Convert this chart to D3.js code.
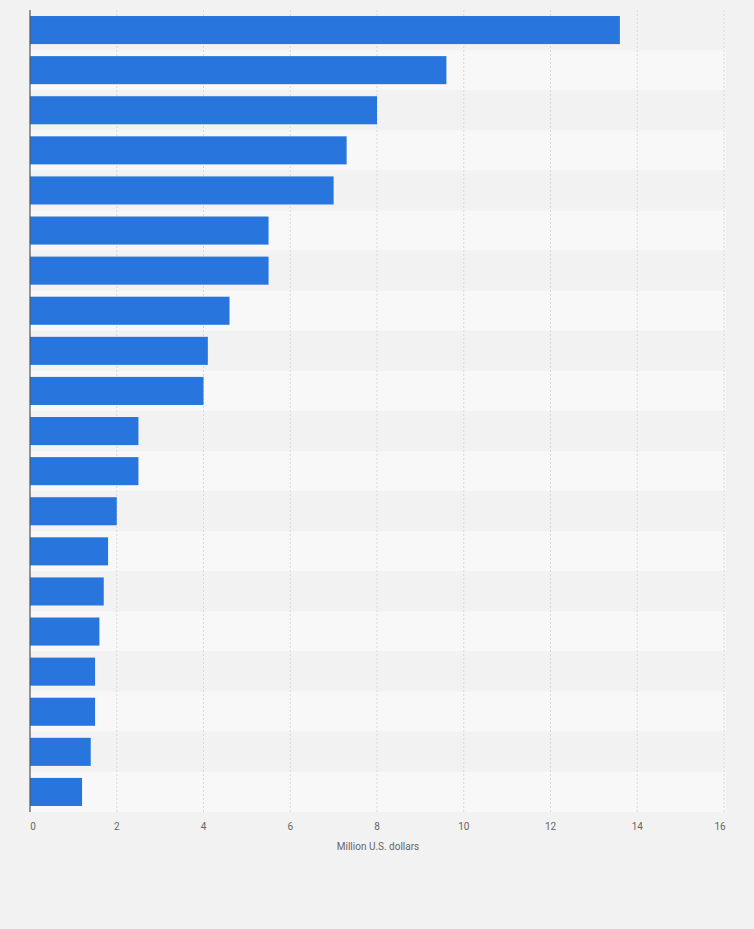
<!DOCTYPE html><html><head><meta charset="utf-8"><script src="https://cdn.jsdelivr.net/npm/d3@7"></script>
<style>body{margin:0;background:#f2f2f2}</style></head><body><svg id="c" width="754" height="929"></svg>
<script>
const categories = d3.range(1,21).map(i=>"Item "+i);
const values = [13.6,9.6,8.0,7.3,7.0,5.5,5.5,4.6,4.1,4.0,2.5,2.5,2.0,1.8,1.7,1.6,1.5,1.5,1.4,1.2];
const ticks = [0,2,4,6,8,10,12,14,16];
const svg = d3.select("#c");
const x = d3.scaleLinear().domain([0,16]).range([30,724]);
const y = d3.scaleBand().domain(categories).range([10,812]).paddingInner(0.3).paddingOuter(0.15);
const band = d3.scaleBand().domain(categories).range([10,812]);
svg.append("rect").attr("width",754).attr("height",929).attr("fill","#f2f2f2");
svg.selectAll(".row").data(categories).enter().append("rect")
 .attr("x",30).attr("width",696).attr("y",d=>band(d)).attr("height",band.bandwidth())
 .attr("fill",(d,i)=>i%2?"#f8f8f8":"#f2f2f2");
svg.selectAll(".g").data(ticks.slice(1)).enter().append("line")
 .attr("x1",d=>x(d)).attr("x2",d=>x(d)).attr("y1",10).attr("y2",812)
 .attr("stroke","#d8d8d8").attr("stroke-dasharray","2,2");
svg.selectAll(".bar").data(values).enter().append("rect")
 .attr("x",x(0)).attr("y",(d,i)=>y(categories[i])).attr("height",y.bandwidth())
 .attr("width",d=>x(d)-x(0)).attr("fill","#2876dd");
svg.append("line").attr("x1",30).attr("x2",30).attr("y1",10).attr("y2",812).attr("stroke","#555").attr("stroke-width",1.2);
svg.selectAll(".t").data(ticks).enter().append("text")
 .attr("x",(d,i)=>x(d)+(i==0?3:(i==ticks.length-1?-4:0))).attr("y",830).attr("text-anchor","middle")
 .attr("font-family","Roboto, Arial, sans-serif").attr("font-size",10).attr("fill","#666").text(d=>d);
svg.append("text").attr("x",378).attr("y",850).attr("text-anchor","middle")
 .attr("font-family","Roboto, Arial, sans-serif").attr("font-size",10).attr("fill","#666").text("Million U.S. dollars");
</script></body></html>
